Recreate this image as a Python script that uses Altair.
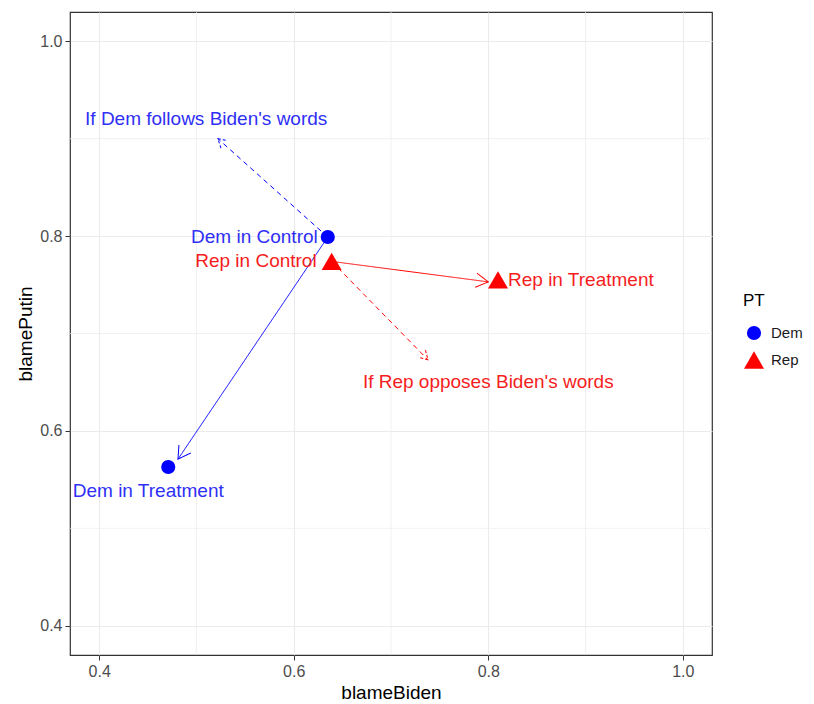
import math
import altair as alt
import pandas as pd

# ---- data ----
party = ["Dem", "Dem", "Rep", "Rep"]
condition = ["Control", "Treatment", "Control", "Treatment"]
blame_biden = [0.635, 0.471, 0.639, 0.810]
blame_putin = [0.799, 0.563, 0.774, 0.755]
point_label = ["Dem in Control", "Dem in Treatment", "Rep in Control", "Rep in Treatment"]

arrow_party = ["Dem", "Dem", "Rep", "Rep"]
arrow_style = ["solid", "dashed", "solid", "dashed"]
arrow_x_start = [0.635, 0.635, 0.639, 0.639]
arrow_y_start = [0.799, 0.799, 0.774, 0.774]
arrow_x_end = [0.481, 0.522, 0.800, 0.738]
arrow_y_end = [0.571, 0.900, 0.753, 0.673]

note_text = ["If Dem follows Biden's words", "If Rep opposes Biden's words"]
note_party = ["Dem", "Rep"]
note_x = [0.51, 0.80]
note_y = [0.92, 0.65]

axis_ticks = [0.4, 0.6, 0.8, 1.0]
minor_grid = [0.5, 0.7, 0.9]

# ---- chart setup ----
DOMAIN = [0.37, 1.03]
W, H = 642, 643
palette = {"Dem": "#0000FF", "Rep": "#FF0000"}
text_palette = {"Dem": "#2F2FF5", "Rep": "#F51D1D"}
FONT = "Liberation Sans"

points = pd.DataFrame({"PT": party, "condition": condition, "blameBiden": blame_biden,
                       "blamePutin": blame_putin, "label": point_label})
points["tcol"] = points["PT"].map(text_palette)

arrows = pd.DataFrame({"party": arrow_party, "style": arrow_style,
                       "x0": arrow_x_start, "y0": arrow_y_start,
                       "x1": arrow_x_end, "y1": arrow_y_end})
arrows["col"] = arrows["party"].map(palette)
kx = W / (DOMAIN[1] - DOMAIN[0])
ky = H / (DOMAIN[1] - DOMAIN[0])
arrows["angle"] = [
    math.degrees(math.atan2((b - a) * kx, (d - c) * ky)) % 360
    for a, b, c, d in zip(arrows["x0"], arrows["x1"], arrows["y0"], arrows["y1"])
]

notes = pd.DataFrame({"text": note_text, "party": note_party, "x": note_x, "y": note_y})
notes["tcol"] = notes["party"].map(text_palette)

xs = alt.Scale(domain=DOMAIN, nice=False, zero=False)
ys = alt.Scale(domain=DOMAIN, nice=False, zero=False)

axis_common = dict(values=axis_ticks, format=".1f", labelFontSize=16, labelColor="#4D4D4D",
                   tickColor="#333333", tickSize=5, tickWidth=1, domain=False,
                   gridColor="#EBEBEB", gridWidth=1.1, titleFontSize=19,
                   titleFontWeight="normal", titleColor="#000000", titlePadding=4,
                   labelFont=FONT, titleFont=FONT, labelPadding=3)

x_axis = alt.Axis(title="blameBiden", **axis_common)
y_axis = alt.Axis(title="blamePutin", **axis_common)


def X(field):
    return alt.X(field, scale=xs, axis=x_axis)


def Y(field):
    return alt.Y(field, scale=ys, axis=y_axis)


grid_df = pd.DataFrame({"v": minor_grid})
minor_x = alt.Chart(grid_df).mark_rule(color="#EBEBEB", strokeWidth=0.7).encode(x=X("v:Q"))
minor_y = alt.Chart(grid_df).mark_rule(color="#EBEBEB", strokeWidth=0.7).encode(y=Y("v:Q"))

top_line = alt.Chart(grid_df).mark_rule(color="#BDBDBD", strokeWidth=1.5).encode(
    x=alt.value(-70), x2=alt.value(744), y=alt.value(-11))


def seg_layer(style, dash):
    return alt.Chart(arrows).transform_filter(alt.datum.style == style).mark_rule(
        strokeWidth=1, strokeDash=dash).encode(
        x=X("x0:Q"), y=Y("y0:Q"), x2="x1:Q", y2="y1:Q",
        color=alt.Color("col:N", scale=None))


def head_layer(style, dash, size):
    return alt.Chart(arrows).transform_filter(alt.datum.style == style).mark_point(
        shape="M -0.58 1 L 0 0 L 0.58 1", filled=False, strokeWidth=1, size=size,
        opacity=1, strokeDash=dash).encode(
        x=X("x1:Q"), y=Y("y1:Q"),
        angle=alt.Angle("angle:Q", scale=None), color=alt.Color("col:N", scale=None))


legend = alt.Legend(title="PT", orient="none", legendX=673, legendY=281, titleFontSize=17,
                    titleFontWeight="normal", titleColor="#000000", labelFontSize=15,
                    labelColor="#1A1A1A", titleFont=FONT, labelFont=FONT, padding=0,
                    titlePadding=15, rowPadding=8, labelOffset=6)

pts = alt.Chart(points).mark_point(filled=True, opacity=1).encode(
    x=X("blameBiden:Q"), y=Y("blamePutin:Q"),
    color=alt.Color("PT:N", scale=alt.Scale(domain=["Dem", "Rep"], range=["#0000FF", "#FF0000"]),
                    legend=legend),
    shape=alt.Shape("PT:N", scale=alt.Scale(domain=["Dem", "Rep"], range=["circle", "triangle-up"]),
                    legend=legend),
    size=alt.Size("PT:N", scale=alt.Scale(domain=["Dem", "Rep"], range=[200, 400]), legend=legend),
)


def label_layer(lbl, align, dx, dy):
    return alt.Chart(points).transform_filter(alt.datum.label == lbl).mark_text(
        align=align, baseline="middle", dx=dx, dy=dy, fontSize=19, font=FONT).encode(
        x=X("blameBiden:Q"), y=Y("blamePutin:Q"),
        text="label:N", color=alt.Color("tcol:N", scale=None))


labels = [
    label_layer("Dem in Control", "right", -10, 0),
    label_layer("Rep in Control", "right", -15, 0),
    label_layer("Rep in Treatment", "left", 10, 0),
    label_layer("Dem in Treatment", "center", -20, 24),
]

note_layer = alt.Chart(notes).mark_text(align="center", baseline="middle", fontSize=19, font=FONT).encode(
    x=X("x:Q"), y=Y("y:Q"),
    text="text:N", color=alt.Color("tcol:N", scale=None))

chart = alt.layer(
    minor_x, minor_y,
    seg_layer("solid", [1, 0]), seg_layer("dashed", [5, 4]),
    head_layer("solid", [1, 0], 600), head_layer("dashed", [3, 2], 300),
    pts, *labels, note_layer, top_line,
).properties(
    width=W, height=H,
    autosize=alt.AutoSizeParams(type="none"),
    padding={"left": 62, "top": 4, "right": 94, "bottom": 48},
    background="#FFFFFF",
).configure_view(
    stroke="#333333", strokeWidth=1.2
)

chart.save("out.html", embed_options={"renderer": "svg", "actions": False})
